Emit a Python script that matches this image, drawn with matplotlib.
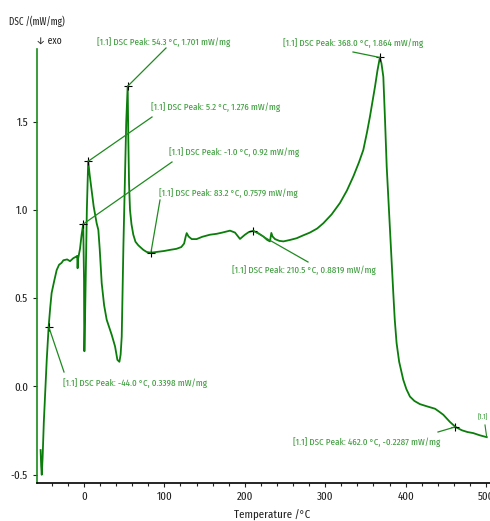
import matplotlib
matplotlib.use('Agg')
import matplotlib.pyplot as plt
from matplotlib.ticker import MultipleLocator

# DSC curve
temperature = [-54.0, -53.3, -52.6, -51.5, -50.0, -48.0, -46.4, -44.0, -42.0, -40.3,
               -37.0, -34.0, -31.0, -28.0, -25.7, -21.0, -17.4, -13.3, -10.0, -8.5,
               -8.0, -7.5, -5.0, -3.0, -1.0, 0.0, 0.3, 0.6, 2.0, 3.5,
               5.2, 7.0, 9.5, 12.0, 15.7, 17.8, 19.5, 22.0, 25.0, 28.2,
               31.0, 34.4, 38.6, 41.5, 44.0, 45.5, 46.9, 48.0, 49.0, 51.0,
               52.5, 54.3, 55.1, 56.0, 57.2, 59.0, 61.3, 64.0, 67.5, 73.8,
               78.0, 83.2, 90.0, 100.0, 107.0, 115.0, 121.0, 124.5, 126.5, 127.7,
               130.0, 134.0, 140.0, 147.0, 156.7, 165.0, 172.0, 181.6, 187.8, 194.0,
               200.2, 205.0, 210.5, 217.0, 223.0, 228.0, 231.3, 233.0, 234.5, 237.6,
               243.0, 248.0, 256.0, 264.5, 272.0, 281.0, 290.0, 297.7, 308.0, 318.4,
               327.0, 335.0, 342.0, 347.4, 352.0, 355.7, 359.0, 362.0, 365.0, 368.0,
               370.0, 372.3, 374.5, 376.5, 379.5, 382.6, 384.7, 386.5, 388.8, 392.0,
               397.1, 401.0, 405.4, 411.0, 417.9, 427.0, 436.6, 441.0, 446.9, 455.0,
               462.0, 470.0, 477.0, 484.2, 492.0, 500.9]
dsc = [-0.36, -0.45, -0.50, -0.40, -0.20, 0.00, 0.15, 0.34, 0.45, 0.53,
       0.60, 0.66, 0.69, 0.70, 0.715, 0.72, 0.71, 0.727, 0.735, 0.74,
       0.67, 0.72, 0.78, 0.86, 0.92, 0.60, 0.20, 0.20, 0.60, 1.00,
       1.276, 1.20, 1.11, 1.02, 0.925, 0.887, 0.78, 0.585, 0.46, 0.378,
       0.34, 0.293, 0.227, 0.151, 0.14, 0.18, 0.283, 0.55, 0.80, 1.20,
       1.50, 1.701, 1.40, 1.15, 1.00, 0.92, 0.86, 0.82, 0.80, 0.774,
       0.762, 0.758, 0.762, 0.768, 0.774, 0.78, 0.79, 0.81, 0.85, 0.869,
       0.85, 0.835, 0.835, 0.848, 0.86, 0.865, 0.872, 0.883, 0.872, 0.836,
       0.86, 0.875, 0.882, 0.868, 0.85, 0.83, 0.822, 0.87, 0.85, 0.835,
       0.825, 0.822, 0.83, 0.84, 0.855, 0.872, 0.895, 0.925, 0.975, 1.04,
       1.11, 1.19, 1.27, 1.34, 1.44, 1.53, 1.62, 1.70, 1.79, 1.864,
       1.83, 1.755, 1.50, 1.246, 0.98, 0.717, 0.529, 0.38, 0.246, 0.14,
       0.038, -0.015, -0.057, -0.082, -0.10, -0.113, -0.126, -0.14, -0.16, -0.20,
       -0.229, -0.248, -0.258, -0.264, -0.276, -0.287]

# peaks reported by the instrument
peak_temp = [54.3, 5.2, -1.0, 83.2, 210.5, 368.0, -44.0, 462.0]
peak_dsc = [1.701, 1.276, 0.92, 0.7579, 0.8819, 1.864, 0.3398, -0.2287]
peak_dsc_txt = ['1.701', '1.276', '0.92', '0.7579', '0.8819', '1.864', '0.3398', '-0.2287']

# label position (left, middle) and leader end, in pixels from the top left
label_px = [(97, 42), (151, 107), (169, 152), (159, 193), (232, 270), (283, 43), (63, 383), (293, 442)]
leader_px = [(166, 48), (152, 117), (172, 162), (160, 200), (308, 262), (353, 52), (64, 372), (438, 432)]

W, H = 490, 521
plt.rcParams['font.family'] = ['Fira Sans Extra Condensed', 'Roboto Condensed', 'DejaVu Sans']

fig = plt.figure(figsize=(W / 100, H / 100), dpi=100)
ax = fig.add_axes([37 / W, 38.3 / H, 453 / W, 433.7 / H])

curve_col = '#0b7d0b'
text_col = '#3c9c3c'

ax.plot(temperature, dsc, color=curve_col, lw=1.3)
ax.set_xlim(-58.5, 505)
ax.set_ylim(-0.545, 1.912)

for s in ['top', 'right']:
    ax.spines[s].set_visible(False)
ax.spines['left'].set_color('#1a8a1a')
ax.spines['left'].set_linewidth(1.2)
ax.spines['bottom'].set_linewidth(1.2)

ax.xaxis.set_major_locator(MultipleLocator(100))
ax.xaxis.set_minor_locator(MultipleLocator(20))
ax.tick_params(axis='both', which='major', labelsize=8.5, length=3, width=0.8, colors='#222222')
ax.tick_params(axis='x', which='minor', length=2.5, width=0.8, colors='#222222')
ax.set_yticks([-0.5, 0.0, 0.5, 1.0, 1.5])
ax.set_yticklabels(['-0.5', '0.0', '0.5', '1.0', '1.5'])

fig.canvas.draw()
inv = ax.transData.inverted()

for i in range(len(peak_temp)):
    ax.plot(peak_temp[i], peak_dsc[i], marker='+', color='black', ms=6, mew=0.8)
    ex, ey = inv.transform((leader_px[i][0], H - leader_px[i][1]))
    ax.plot([peak_temp[i], ex], [peak_dsc[i], ey], color='#1f8a1f', lw=0.9, clip_on=False)
    txt = '[1.1] DSC Peak: %.1f °C, %s mW/mg' % (peak_temp[i], peak_dsc_txt[i])
    fig.text(label_px[i][0] / W, 1 - label_px[i][1] / H, txt, color=text_col,
             fontsize=7.1, va='center', ha='left')

# small label at the end of the curve
ex, ey = inv.transform((485, H - 425))
ax.plot([temperature[-1], ex], [dsc[-1], ey], color='#1f8a1f', lw=0.8, clip_on=False)
fig.text(478 / W, 1 - 417 / H, '[1.1]', color=text_col, fontsize=5, va='center', ha='left')

fig.text(9 / W, 1 - 22 / H, 'DSC /(mW/mg)', fontsize=7.2, ha='left', va='center', color='#222222')
fig.text(62 / W, 1 - 41 / H, '↓ exo', fontsize=7.5, ha='right', va='center', color='#222222')
fig.text(272 / W, 1 - 515 / H, 'Temperature /°C', fontsize=8.5, ha='center', va='center', color='#222222')

fig.savefig('out.png', dpi=100)
